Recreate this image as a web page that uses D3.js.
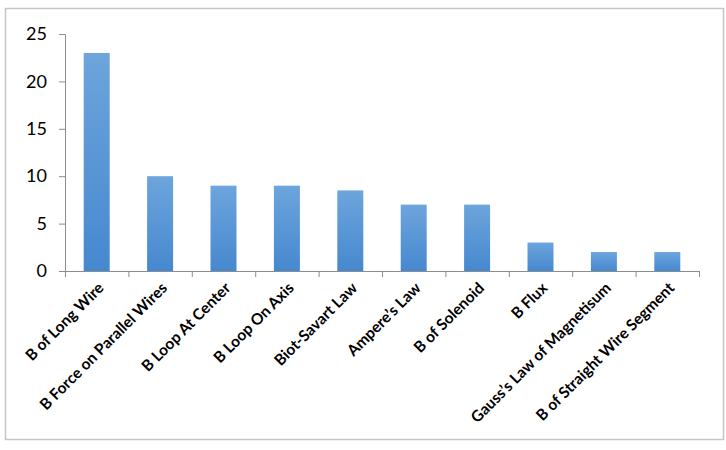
<!DOCTYPE html>
<html>
<head>
<meta charset="utf-8">
<script src="https://cdn.jsdelivr.net/npm/d3@7"></script>
<style>
  html, body { margin: 0; padding: 0; background: #fff; }
  svg { display: block; }
</style>
</head>
<body>
<div id="chart"></div>
<script>
// 類別與數值
const categories = [
  "B of Long Wire",
  "B Force on Parallel Wires",
  "B Loop At Center",
  "B Loop On Axis",
  "Biot-Savart Law",
  "Ampere\u2019s Law",
  "B of Solenoid",
  "B Flux",
  "Gauss\u2019s Law of Magnetisum",
  "B of Straight Wire Segment"
];
const values = [23, 10, 9, 9, 8.5, 7, 7, 3, 2, 2];
const yTicks = [0, 5, 10, 15, 20, 25];

const width = 726;
const height = 450;
const plot = { left: 65, right: 699, top: 34, bottom: 271 };

const svg = d3.select("#chart")
  .append("svg")
  .attr("width", width)
  .attr("height", height);

// 外框
svg.append("rect")
  .attr("x", 5.5)
  .attr("y", 8.5)
  .attr("width", 718)
  .attr("height", 431)
  .style("fill", "#fff")
  .style("stroke", "#c6c6c6")
  .style("stroke-width", 1.5);

const defs = svg.append("defs");
const grad = defs.append("linearGradient")
  .attr("id", "barGrad")
  .attr("x1", 0).attr("y1", 0)
  .attr("x2", 0).attr("y2", 1);
grad.append("stop").attr("offset", "0%").attr("stop-color", "#6da5dc");
grad.append("stop").attr("offset", "100%").attr("stop-color", "#4688cf");

const x = d3.scaleBand()
  .domain(categories)
  .range([plot.left, plot.right])
  .paddingInner(0.59)
  .paddingOuter(0.295);

const y = d3.scaleLinear()
  .domain([0, 25])
  .range([plot.bottom, plot.top]);

// 長條
svg.selectAll(".bar")
  .data(categories)
  .join("rect")
  .attr("class", "bar")
  .attr("x", d => x(d))
  .attr("y", (d, i) => y(values[i]))
  .attr("width", x.bandwidth())
  .attr("height", (d, i) => y(0) - y(values[i]))
  .style("fill", "url(#barGrad)");

// Y 軸
const yAxis = svg.append("g")
  .attr("transform", `translate(${plot.left},0)`)
  .call(d3.axisLeft(y).tickValues(yTicks).tickSize(6).tickPadding(12));
yAxis.select(".domain").style("stroke", "#8c8c8c");
yAxis.selectAll(".tick line").style("stroke", "#8c8c8c");
yAxis.selectAll(".tick text")
  .style("font-family", "Lato, 'Open Sans', sans-serif")
  .style("font-size", "18px")
  .style("fill", "#000");

// X 軸（刻度在類別邊界）
const bounds = d3.range(categories.length + 1).map(i => plot.left + i * (plot.right - plot.left) / categories.length);
svg.append("line")
  .attr("x1", plot.left).attr("x2", plot.right)
  .attr("y1", plot.bottom + 0.5).attr("y2", plot.bottom + 0.5)
  .style("stroke", "#8c8c8c");
svg.selectAll(".xtick")
  .data(bounds)
  .join("line")
  .attr("class", "xtick")
  .attr("x1", d => d + 0.5).attr("x2", d => d + 0.5)
  .attr("y1", plot.bottom).attr("y2", plot.bottom + 6)
  .style("stroke", "#8c8c8c");

// 類別文字，旋轉 45 度
svg.selectAll(".xlabel")
  .data(categories)
  .join("text")
  .attr("class", "xlabel")
  .attr("transform", d => `translate(${x(d) + x.bandwidth() / 2 + 8},${plot.bottom + 18}) rotate(-45)`)
  .attr("text-anchor", "end")
  .style("font-family", "Lato, 'Open Sans', sans-serif")
  .style("font-weight", "bold")
  .style("font-size", "15.5px")
  .style("fill", "#000")
  .text(d => d);
</script>
</body>
</html>
